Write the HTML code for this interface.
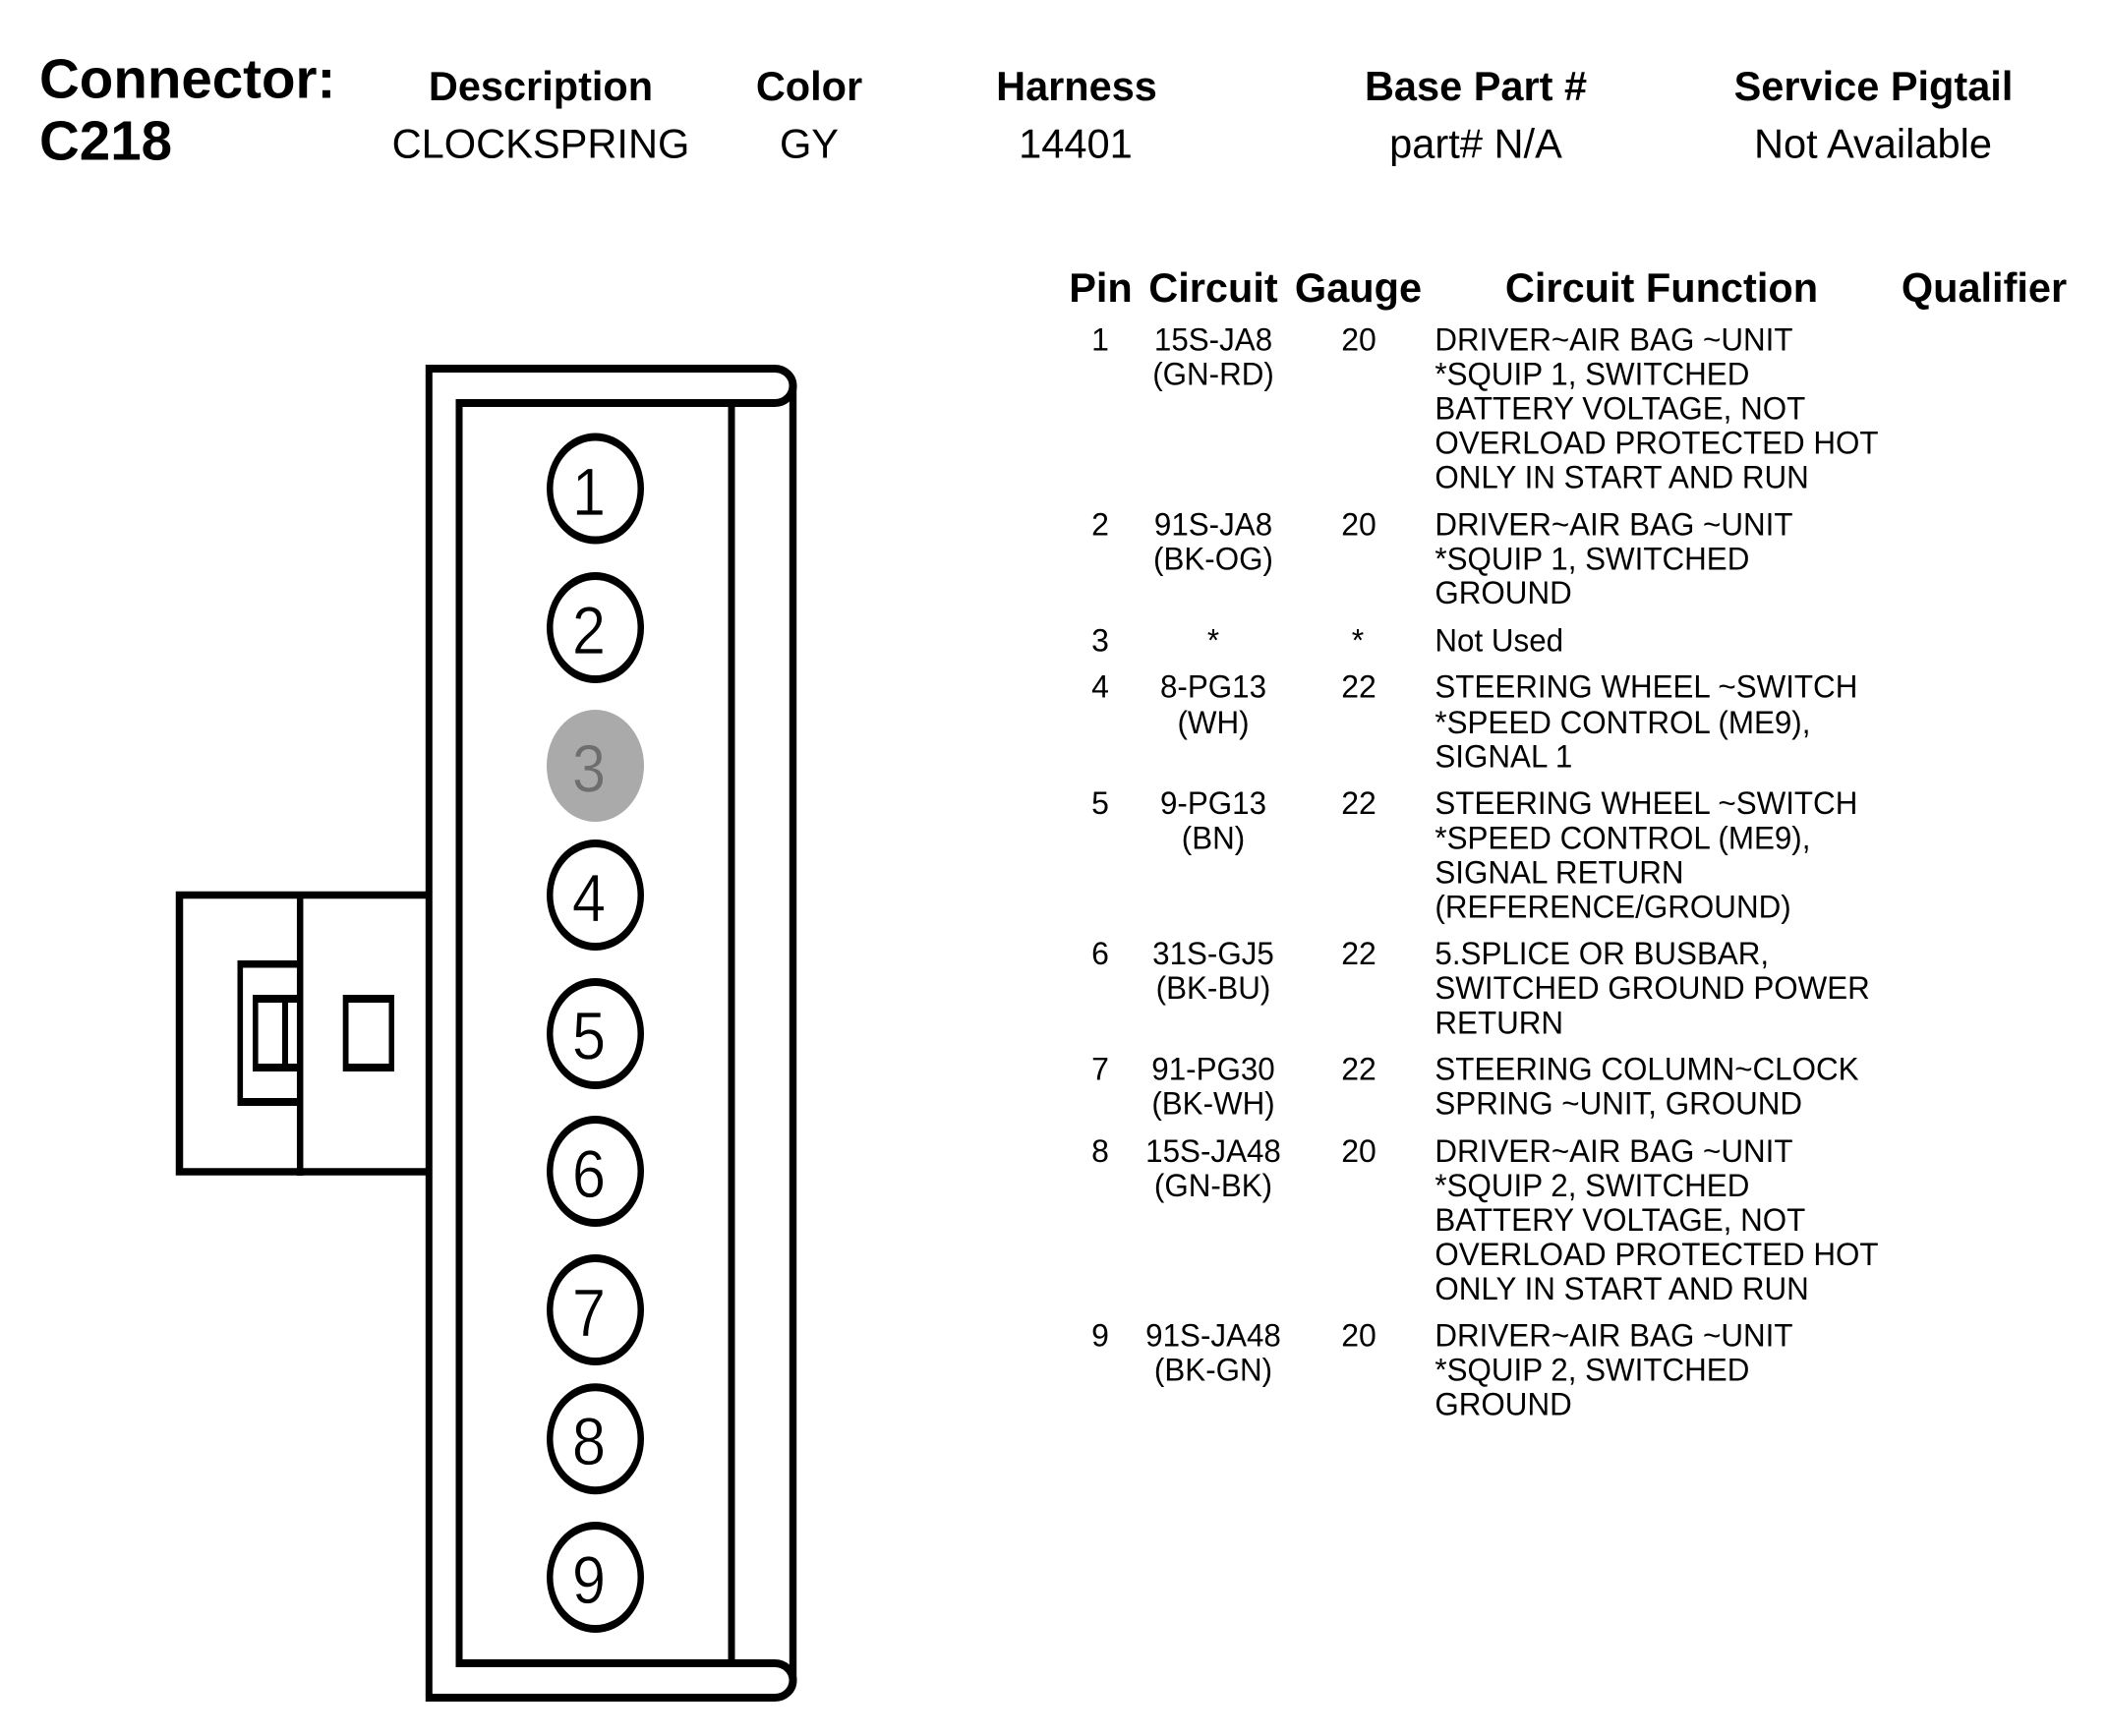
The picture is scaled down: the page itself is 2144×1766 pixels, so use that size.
<!DOCTYPE html>
<html><head><meta charset="utf-8"><style>
html,body{margin:0;padding:0;background:#fff;width:2144px;height:1766px;overflow:hidden}
svg{display:block}
text{font-family:"Liberation Sans",Arial,sans-serif;fill:#000}
.h{font-weight:bold;font-size:41.5px;text-anchor:middle}
.v{font-size:41.6px;text-anchor:middle}
.t{font-size:32px}
.c{font-size:32px;text-anchor:middle}
.d{font-size:69px;text-anchor:middle;stroke:#fff;stroke-width:.7px}
</style></head><body>
<svg width="2144" height="1766" viewBox="0 0 2144 1766" xmlns="http://www.w3.org/2000/svg">
<rect width="2144" height="1766" fill="#fff"/>
<!-- header -->
<text x="40" y="99.5" font-size="56.5" font-weight="bold">Connector:</text>
<text x="40" y="162.5" font-size="56.5" font-weight="bold">C218</text>
<text class="h" x="550" y="102">Description</text>
<text class="h" x="823" y="102">Color</text>
<text class="h" x="1095" y="102">Harness</text>
<text class="h" x="1501" y="102">Base Part #</text>
<text class="h" x="1905.5" y="102">Service Pigtail</text>
<text class="v" x="550" y="160.7">CLOCKSPRING</text>
<text class="v" x="823" y="160.7">GY</text>
<text class="v" x="1094" y="160.7">14401</text>
<text class="v" x="1501" y="160.7">part# N/A</text>
<text class="v" x="1905" y="160.7">Not Available</text>
<!-- table header -->
<text class="h" x="1119.5" y="307">Pin</text>
<text class="h" x="1234" y="307">Circuit</text>
<text class="h" x="1381.5" y="307">Gauge</text>
<text class="h" x="1690" y="307">Circuit Function</text>
<text class="h" x="2018" y="307">Qualifier</text>
<!-- pin + gauge columns -->
<g>
<text class="c" x="1119" y="356.7">1</text><text class="c" x="1382" y="356.7">20</text>
<text class="c" x="1119" y="544.3">2</text><text class="c" x="1382" y="544.3">20</text>
<text class="c" x="1119" y="662.3">3</text><text class="c" x="1381" y="662.3">*</text>
<text class="c" x="1119" y="709.6">4</text><text class="c" x="1382" y="709.6">22</text>
<text class="c" x="1119" y="828">5</text><text class="c" x="1382" y="828">22</text>
<text class="c" x="1119" y="981">6</text><text class="c" x="1382" y="981">22</text>
<text class="c" x="1119" y="1098.5">7</text><text class="c" x="1382" y="1098.5">22</text>
<text class="c" x="1119" y="1182">8</text><text class="c" x="1382" y="1182">20</text>
<text class="c" x="1119" y="1369.5">9</text><text class="c" x="1382" y="1369.5">20</text>
</g>
<!-- circuit column -->
<g transform="matrix(.98 0 0 1 24.7 0)">
<text class="c" x="1234" y="356.7">15S-JA8</text>
<text class="c" x="1234" y="391.7">(GN-RD)</text>
<text class="c" x="1234" y="544.3">91S-JA8</text>
<text class="c" x="1234" y="579.3">(BK-OG)</text>
<text class="c" x="1234" y="662.3">*</text>
<text class="c" x="1234" y="709.6">8-PG13</text>
<text class="c" x="1234" y="746">(WH)</text>
<text class="c" x="1234" y="828">9-PG13</text>
<text class="c" x="1234" y="863.3">(BN)</text>
<text class="c" x="1234" y="981">31S-GJ5</text>
<text class="c" x="1234" y="1016">(BK-BU)</text>
<text class="c" x="1234" y="1098.5">91-PG30</text>
<text class="c" x="1234" y="1133.7">(BK-WH)</text>
<text class="c" x="1234" y="1182">15S-JA48</text>
<text class="c" x="1234" y="1217">(GN-BK)</text>
<text class="c" x="1234" y="1369.5">91S-JA48</text>
<text class="c" x="1234" y="1404.5">(BK-GN)</text>
</g>
<!-- function column -->
<g transform="matrix(.98 0 0 1 30.56 0)">
<text class="t" x="1458" y="356.7">DRIVER~AIR BAG ~UNIT</text>
<text class="t" x="1458" y="391.7">*SQUIP 1, SWITCHED</text>
<text class="t" x="1458" y="426.7">BATTERY VOLTAGE, NOT</text>
<text class="t" x="1458" y="461.5">OVERLOAD PROTECTED HOT</text>
<text class="t" x="1458" y="496.3">ONLY IN START AND RUN</text>
<text class="t" x="1458" y="544.3">DRIVER~AIR BAG ~UNIT</text>
<text class="t" x="1458" y="579.3">*SQUIP 1, SWITCHED</text>
<text class="t" x="1458" y="614">GROUND</text>
<text class="t" x="1458" y="662.3">Not Used</text>
<text class="t" x="1458" y="709.6">STEERING WHEEL ~SWITCH</text>
<text class="t" x="1458" y="746">*SPEED CONTROL (ME9),</text>
<text class="t" x="1458" y="780.6">SIGNAL 1</text>
<text class="t" x="1458" y="828">STEERING WHEEL ~SWITCH</text>
<text class="t" x="1458" y="863.3">*SPEED CONTROL (ME9),</text>
<text class="t" x="1458" y="898.5">SIGNAL RETURN</text>
<text class="t" x="1458" y="933.7">(REFERENCE/GROUND)</text>
<text class="t" x="1458" y="981">5.SPLICE OR BUSBAR,</text>
<text class="t" x="1458" y="1016">SWITCHED GROUND POWER</text>
<text class="t" x="1458" y="1051.7">RETURN</text>
<text class="t" x="1458" y="1098.5">STEERING COLUMN~CLOCK</text>
<text class="t" x="1458" y="1133.7">SPRING ~UNIT, GROUND</text>
<text class="t" x="1458" y="1182">DRIVER~AIR BAG ~UNIT</text>
<text class="t" x="1458" y="1217">*SQUIP 2, SWITCHED</text>
<text class="t" x="1458" y="1252">BATTERY VOLTAGE, NOT</text>
<text class="t" x="1458" y="1287">OVERLOAD PROTECTED HOT</text>
<text class="t" x="1458" y="1322">ONLY IN START AND RUN</text>
<text class="t" x="1458" y="1369.5">DRIVER~AIR BAG ~UNIT</text>
<text class="t" x="1458" y="1404.5">*SQUIP 2, SWITCHED</text>
<text class="t" x="1458" y="1439.5">GROUND</text>
</g>

<!-- connector body -->
<g fill="none" stroke="#000" stroke-linejoin="miter">
  <path d="M436,375 H788 A18.5,17.5 0 0 1 806.5,392.5 A18.5,17.5 0 0 1 788,410 H467" stroke-width="8"/>
  <path d="M467,1692 H788 A18.5,17.5 0 0 1 806.5,1709.5 A18.5,17.5 0 0 1 788,1727 H436" stroke-width="8"/>
  <path d="M436.3,371 V1731" stroke-width="7"/>
  <path d="M467,406 V1696" stroke-width="7"/>
  <path d="M744,410 V1692" stroke-width="7"/>
  <path d="M806.5,392 V1710" stroke-width="7.4"/>
  <!-- side housing -->
  <path d="M436,910.5 H182.5 V1192 H436" stroke-width="7.5"/>
  <path d="M305.2,907 V1196" stroke-width="6.5"/>
</g>
<g fill="#000">
  <rect x="241.5" y="977" width="61" height="7.5"/>
  <rect x="241.5" y="1117" width="61" height="8"/>
  <rect x="241.5" y="977" width="5.6" height="148"/>
  <rect x="257" y="1012" width="45.5" height="8"/>
  <rect x="257" y="1082" width="45.5" height="8"/>
  <rect x="257" y="1012" width="5.6" height="78"/>
  <rect x="287" y="1012" width="6" height="78"/>
  <rect x="348.7" y="1012" width="52.3" height="78"/>
  <rect x="354.5" y="1020" width="41" height="62" fill="#fff"/>
</g>
<!-- pins -->
<g fill="#000">
  <ellipse cx="605.5" cy="497" rx="49.5" ry="56.5"/><ellipse cx="605.5" cy="497" rx="43" ry="48.5" fill="#fff"/>
  <ellipse cx="605.5" cy="638.5" rx="49.5" ry="56.5"/><ellipse cx="605.5" cy="638.5" rx="43" ry="48.5" fill="#fff"/>
  <ellipse cx="605.5" cy="779" rx="49.5" ry="57" fill="#aaaaaa"/>
  <ellipse cx="605.5" cy="910.5" rx="49.5" ry="56.5"/><ellipse cx="605.5" cy="910.5" rx="43" ry="48.5" fill="#fff"/>
  <ellipse cx="605.5" cy="1051.5" rx="49.5" ry="56.5"/><ellipse cx="605.5" cy="1051.5" rx="43" ry="48.5" fill="#fff"/>
  <ellipse cx="605.5" cy="1191.5" rx="49.5" ry="56.5"/><ellipse cx="605.5" cy="1191.5" rx="43" ry="48.5" fill="#fff"/>
  <ellipse cx="605.5" cy="1332.5" rx="49.5" ry="56.5"/><ellipse cx="605.5" cy="1332.5" rx="43" ry="48.5" fill="#fff"/>
  <ellipse cx="605.5" cy="1463.7" rx="49.5" ry="56.5"/><ellipse cx="605.5" cy="1463.7" rx="43" ry="48.5" fill="#fff"/>
  <ellipse cx="605.5" cy="1604.5" rx="49.5" ry="56.5"/><ellipse cx="605.5" cy="1604.5" rx="43" ry="48.5" fill="#fff"/>
</g>
<text class="d" transform="translate(599,524) scale(.89,1)">1</text>
<text class="d" transform="translate(599,665) scale(.89,1)">2</text>
<text class="d" transform="translate(599,805.5) scale(.89,1)" style="fill:#6e6e6e;stroke:#aaa">3</text>
<text class="d" transform="translate(599,937) scale(.89,1)">4</text>
<text class="d" transform="translate(599,1077.5) scale(.89,1)">5</text>
<text class="d" transform="translate(599,1218) scale(.89,1)">6</text>
<text class="d" transform="translate(599,1359) scale(.89,1)">7</text>
<text class="d" transform="translate(599,1490) scale(.89,1)">8</text>
<text class="d" transform="translate(599,1631) scale(.89,1)">9</text>
</svg>
</body></html>
